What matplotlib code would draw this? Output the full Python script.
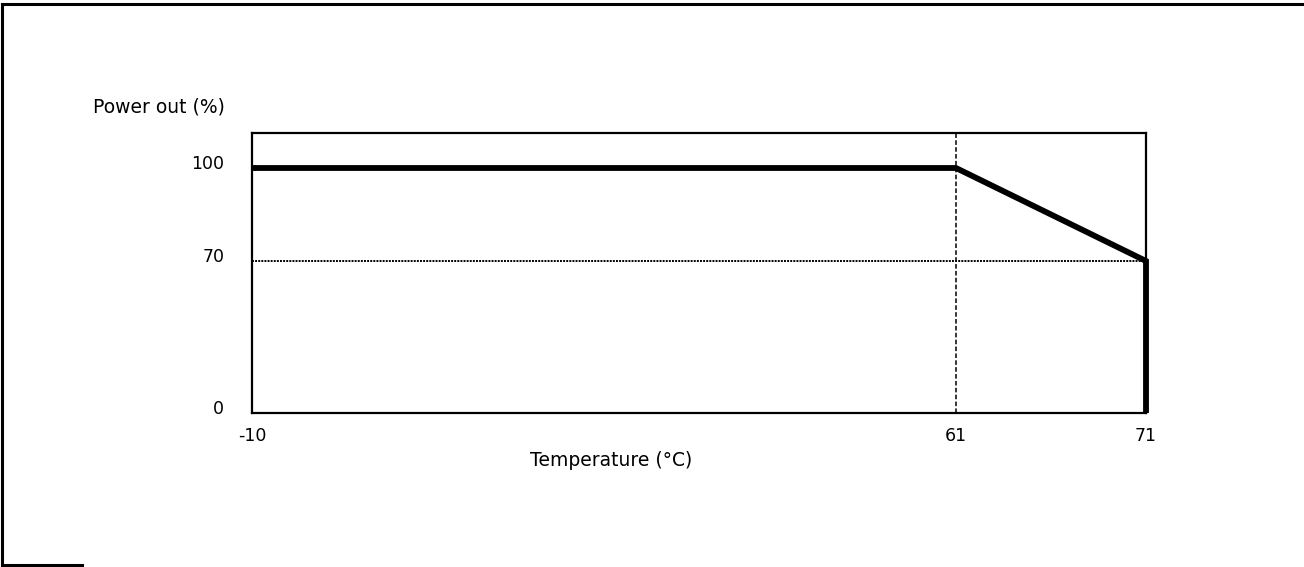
import numpy as np
import matplotlib
matplotlib.use("Agg")
import matplotlib.pyplot as plt
from matplotlib.lines import Line2D
from matplotlib.transforms import ScaledTranslation

# derating curve
temps = [-10, 61, 71, 71]
power = [100, 100, 70, 0]
x_ticks = [-10, 61, 71]
y_ticks = [0, 70, 100]
knee_temp = 61
knee_power = 70

plt.rcParams['font.family'] = ['DejaVu Sans']

W, H = 1304, 567
fig = plt.figure(figsize=(W / 100, H / 100), dpi=100)

# schematic axes: not to scale, so map values piecewise
xb = [-10, 61, 71]
xp = [0, 704, 894]
yb = [0, 70, 100, 111.3]
yp = [0, 152, 245, 280]

def fx(v):
    return np.interp(v, xb, xp)

def ix(p):
    return np.interp(p, xp, xb)

def fy(v):
    return np.interp(v, yb, yp)

def iy(p):
    return np.interp(p, yp, yb)

ax = fig.add_axes([252 / W, 1 - 413 / H, 894 / W, 280 / H])
ax.set_xscale('function', functions=(fx, ix))
ax.set_yscale('function', functions=(fy, iy))
ax.set_xlim(-10, 71)
ax.set_ylim(0, 111.3)

ax.axvline(knee_temp, color='black', lw=1.1, ls=(0, (3, 1.5)))
ax.axhline(knee_power, color='black', lw=1.4, ls=(0, (1, 0.6)))
ax.plot(temps, power, color='black', lw=4.2, solid_capstyle='butt',
        solid_joinstyle='miter', clip_on=False)

for s in ax.spines.values():
    s.set_linewidth(1.6)

ax.set_xticks(x_ticks)
ax.set_xticklabels([str(t) for t in x_ticks])
ax.set_yticks(y_ticks)
ax.set_yticklabels([str(t) for t in y_ticks])
ax.xaxis.set_minor_locator(matplotlib.ticker.NullLocator())
ax.yaxis.set_minor_locator(matplotlib.ticker.NullLocator())
ax.tick_params(length=0, labelsize=12.5)
ax.tick_params(axis='x', pad=10)
ax.tick_params(axis='y', pad=20)

# y labels sit a little above their lines in the original
shift = ScaledTranslation(0, 6 / 100, fig.dpi_scale_trans)
for lab in ax.get_yticklabels():
    lab.set_transform(lab.get_transform() + shift)

fig.text(93 / W, 1 - 107 / H, 'Power out (%)', fontsize=13.5, va='center', ha='left')
fig.text(611 / W, 1 - 461 / H, 'Temperature (°C)', fontsize=13.5, va='center', ha='center')

# outer frame (cropped)
lw = 2.2
fig.add_artist(Line2D([2 / W, 1], [1 - 4 / H, 1 - 4 / H], color='black', lw=lw, transform=fig.transFigure))
fig.add_artist(Line2D([2 / W, 2 / W], [1 - 4 / H, 1 - 565 / H], color='black', lw=lw, transform=fig.transFigure))
fig.add_artist(Line2D([2 / W, 82 / W], [1 - 565 / H, 1 - 565 / H], color='black', lw=lw, transform=fig.transFigure))

fig.savefig('out.png', dpi=100)
